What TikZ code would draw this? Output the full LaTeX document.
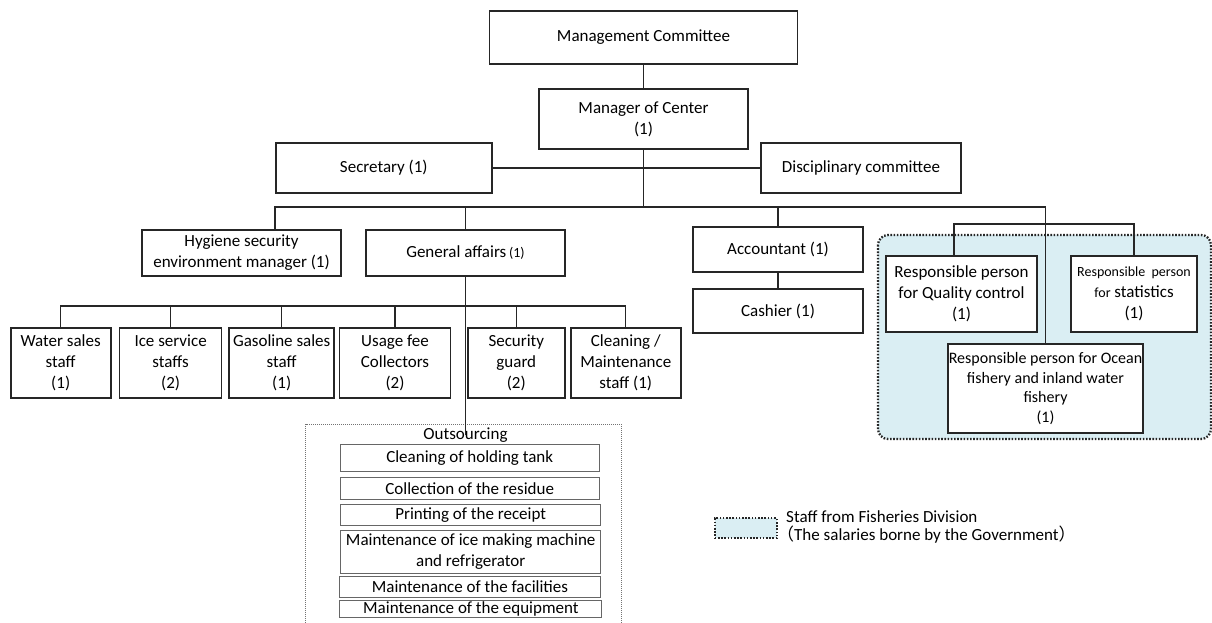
\documentclass[tikz,border=0pt]{standalone}
\usepackage{fontspec}
\setmainfont{Carlito}
\newfontfamily\cjk{Noto Sans CJK JP}
\definecolor{fishblue}{HTML}{DAEEF3}
\definecolor{boxline}{HTML}{262626}

\begin{document}
\begin{tikzpicture}[x=1pt, y=-1pt, font=\fontsize{17}{21}\selectfont,
    box/.style={draw=boxline, line width=1.7pt, fill=white, inner sep=0pt, align=center},
    item/.style={draw=black!60, line width=0.9pt, fill=white, inner sep=0pt, align=center},
    link/.style={draw=boxline, line width=1.3pt},
    fishery/.style={fill=fishblue, draw=boxline, line width=2.3pt, dash pattern=on 1.6pt off 1.6pt}]

  % canvas in pixels, y pointing down
  \useasboundingbox (0,0) rectangle (1212,623);

  % ---- staff from Fisheries Division (background) ----
  \filldraw[fishery, rounded corners=10pt] (878,235) rectangle (1211,439);

  % ---- top of the chart ----
  \node[box, minimum width=308, minimum height=53] (mc) at (643.5,37.5) {Management Committee};
  \node[box, minimum width=209, minimum height=60] (moc) at (643.5,119) {Manager of Center\\(1)};
  \node[box, minimum width=216, minimum height=50] (sec) at (383.8,168) {Secretary (1)};
  \node[box, minimum width=200, minimum height=50] (disc) at (861,168) {Disciplinary committee};

  % ---- second level ----
  \node[box, minimum width=199, minimum height=46] (hyg) at (241.5,253) {Hygiene security\\environment manager (1)};
  \node[box, minimum width=199, minimum height=46] (ga) at (465.5,253)
    {General affairs\,{\fontsize{14}{21}\selectfont(1)}};
  \node[box, minimum width=170, minimum height=45] (acc) at (778,249.5) {Accountant (1)};
  \node[box, minimum width=170, minimum height=44] (cash) at (778,311) {Cashier (1)};

  % fisheries staff
  \node[box, minimum width=151, minimum height=76] (qc) at (961.5,294)
    {Responsible person\\for Quality control\\(1)};
  \node[box, minimum width=126, minimum height=76] (stat) at (1134,294)
    {{\fontsize{14}{21}\selectfont Responsible\ \ person}\\{\fontsize{14}{21}\selectfont for} statistics\\(1)};
  \node[box, minimum width=195, minimum height=89, font=\fontsize{16}{19.5}\selectfont] (ocean) at (1045.5,388.5)
    {Responsible person for Ocean\\fishery and inland water\\fishery\\(1)};

  % ---- staff under General affairs ----
  \node[box, minimum width=100, minimum height=70] (water) at (60.7,363) {Water sales\\staff\\(1)};
  \node[box, minimum width=102, minimum height=70] (ice) at (170.6,363) {Ice service\\staffs\\(2)};
  \node[box, minimum width=105, minimum height=70] (gas) at (281.7,363) {Gasoline sales\\staff\\(1)};
  \node[box, minimum width=111, minimum height=70] (usage) at (395,363) {Usage fee\\Collectors\\(2)};
  \node[box, minimum width=97, minimum height=70] (guard) at (516.3,363) {Security\\guard\\(2)};
  \node[box, minimum width=110, minimum height=70] (clean) at (625.8,363) {Cleaning /\\Maintenance\\staff (1)};

  % ---- connectors ----
  \coordinate (b2) at (643.5,207);
  \coordinate (b3) at (60.7,306);
  \coordinate (b4) at (954,224);
  \draw[link] (mc.south) -- (moc.north);
  \draw[link] (sec.east) -- (disc.west);
  \draw[link] (moc.south) -- (b2);
  \draw[link] (sec.west |- hyg.north) -- (sec.west |- b2) -| (ocean.north);
  \draw[link] (ga.north) -- (ga.north |- b2);
  \draw[link] (acc.north) -- (acc.north |- b2);
  \draw[link] (acc.south) -- (cash.north);
  \draw[link] (b4 |- qc.north) -- (b4) -| (stat.north);
  \draw[link] (water.north) -- (b3) -| (clean.north);
  \foreach \n in {ice, gas, usage, guard}
    \draw[link] (\n.north) -- (\n.north |- b3);

  % ---- outsourcing ----
  \draw[black!55, line width=0.8pt, dash pattern=on 1pt off 1pt] (305.7,623) |- (621,424.3) -- (621,623);
  \node[inner sep=0pt] (outs) at (465.5,435) {Outsourcing};
  \draw[link] (ga.south) -- (ga.south |- outs.center);

  \node[item, minimum width=259, minimum height=26.7] (tank) at (469.7,457.7) {Cleaning of holding tank};
  \node[item, minimum width=259, minimum height=22] (residue) at (469.7,488.3) {Collection of the residue};
  \node[item, minimum width=260, minimum height=20.7] (receipt) at (470.7,514.7) {Printing of the receipt};
  \node[item, minimum width=260, minimum height=42.7] (icemach) at (470.7,552)
    {Maintenance of ice making machine\\and refrigerator};
  \node[item, minimum width=261, minimum height=21.7] (facil) at (470,586.9) {Maintenance of the facilities};
  \node[item, minimum width=262, minimum height=17.3] (equip) at (470.9,608.7) {Maintenance of the equipment};

  % ---- legend ----
  \node[fishery, inner sep=0pt, minimum width=62, minimum height=20] (key) at (745.8,528.3) {};
  \node[anchor=west, align=left, inner sep=0pt, font=\fontsize{17}{18}\selectfont] (keytext) at (786,526.5)
    {Staff from Fisheries Division\\\hspace*{-9pt}{\cjk （}The salaries borne by the Government{\cjk ）}};

\end{tikzpicture}
\end{document}
